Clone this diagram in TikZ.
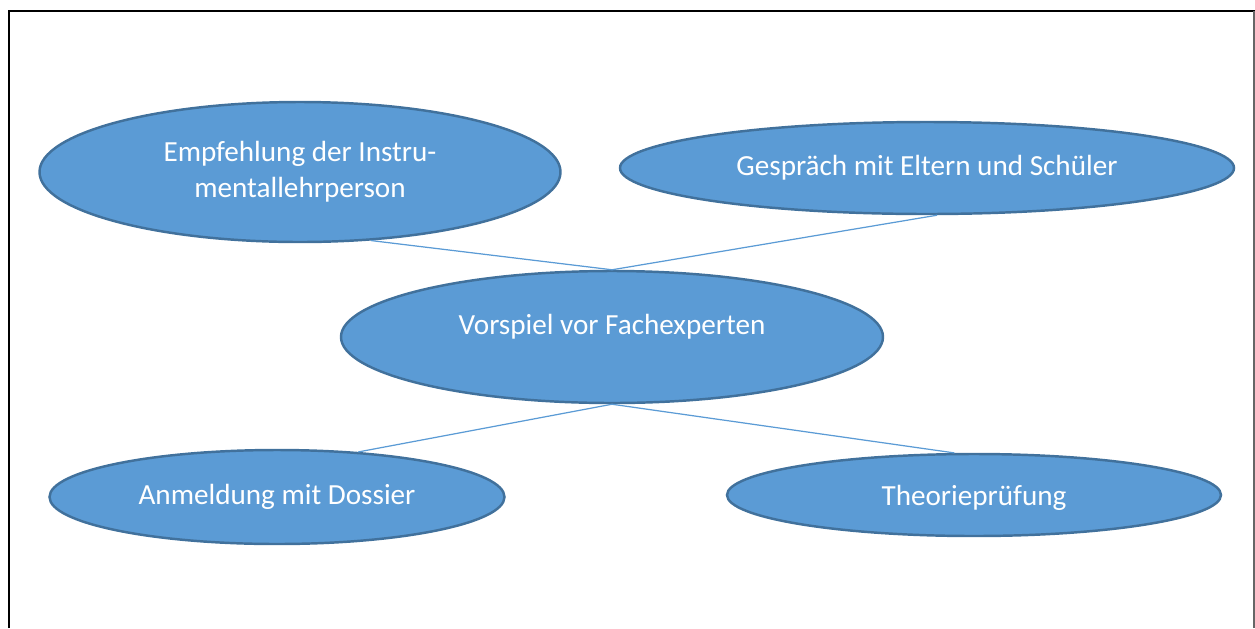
\documentclass[tikz,border=0pt]{standalone}
\usepackage{fontspec}
\setmainfont{Carlito}
\usepackage{tikz}
\usetikzlibrary{shapes.geometric}
\definecolor{bubble}{RGB}{91,155,213}
\definecolor{bubbleedge}{RGB}{65,113,156}

\begin{document}
\begin{tikzpicture}[
  bub/.style={ellipse,fill=bubble,draw=bubbleedge,line width=0.7pt,inner sep=0pt,
    text=white,align=center,font=\fontsize{8.3}{10.2}\selectfont},
  link/.style={draw=bubble,line width=0.35pt}]
  \useasboundingbox (0,0) rectangle (12.55,6.28);
  % frame
  \draw[line width=0.8pt](0.09,0)--(0.09,6.17)--(12.55,6.17);
  \draw[gray!80!black,line width=0.6pt](12.54,0)--(12.54,6.17);
  % bubbles
  \node[bub,minimum width=5.21cm,minimum height=1.40cm] (emp) at (3.00,4.56){Empfehlung der Instru-\\mentallehrperson};
  \node[bub,minimum width=6.14cm,minimum height=0.92cm] (ges) at (9.27,4.60){Gespräch mit Eltern und Schüler};
  \node[bub,minimum width=5.42cm,minimum height=1.32cm,text depth=0.25cm] (vor) at (6.12,2.91){Vorspiel vor Fachexperten};
  \node[bub,minimum width=4.55cm,minimum height=0.94cm] (anm) at (2.77,1.31){Anmeldung mit Dossier};
  \node[bub,minimum width=4.94cm,minimum height=0.82cm,text height=0.27cm,text depth=0.07cm] (theo) at (9.74,1.33){Theorieprüfung};
  % links
  \draw[link](emp.-44)--(vor.north);
  \draw[link](ges.-78)--(vor.north);
  \draw[link](vor.south)--(anm.29);
  \draw[link](vor.south)--(theo.115);
\end{tikzpicture}
\end{document}
